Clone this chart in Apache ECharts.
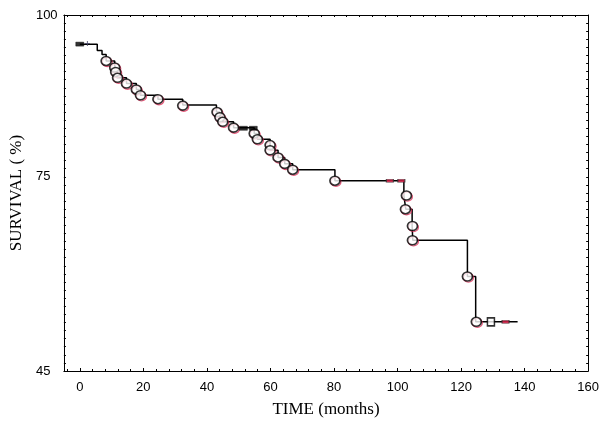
<!DOCTYPE html>
<html>
<head>
<meta charset="utf-8">
<script src="https://cdn.jsdelivr.net/npm/echarts@6/dist/echarts.min.js"></script>
<style>html,body{margin:0;padding:0;background:#fff}#c{width:602px;height:423px}</style>
</head>
<body>
<div id="c"></div>
<script>
// ---- data ----
const stepTimes = [0, 5.5, 7.0, 8.3, 11.0, 11.0, 11.7, 14.7, 17.8, 19.1, 24.6, 32.4, 43.0, 44.1, 45.0, 48.4, 54.9, 55.9, 59.9, 59.9, 62.4, 64.5, 67.0, 80.3, 102.0, 102.6, 104.6, 104.8, 122.0, 124.6, 137.8];
const stepSurv  = [95.5, 94.5, 93.9, 92.9, 92.0, 91.2, 90.3, 89.4, 88.5, 87.6, 87.0, 86.1, 85.0, 84.2, 83.5, 82.6, 81.7, 80.8, 79.9, 79.1, 78.0, 77.0, 76.1, 74.4, 72.1, 70.0, 67.4, 65.2, 59.6, 52.6, 52.6];
const circleTimes = [8.3, 11.0, 11.3, 11.9, 14.7, 17.8, 19.1, 24.6, 32.4, 43.2, 44.1, 45.0, 48.4, 54.9, 55.9, 59.9, 59.9, 62.4, 64.5, 67.0, 80.3, 102.8, 102.5, 104.7, 104.7, 122.0, 124.8];
const circleSurv  = [92.9, 91.9, 91.2, 90.3, 89.4, 88.5, 87.6, 87.0, 86.0, 85.0, 84.2, 83.5, 82.6, 81.7, 80.8, 79.9, 79.1, 78.0, 77.0, 76.1, 74.4, 72.1, 70.0, 67.4, 65.2, 59.6, 52.6];
const squareTimes = [129.4];
const squareSurv  = [52.6];
const blackBarTimes = [0, 51.5, 54.6];
const blackBarSurv  = [95.5, 82.5, 82.5];
const redBarTimes = [97.6, 101.2, 134.0];
const redBarSurv  = [74.4, 74.4, 52.6];
const plusTimes = [2.4];
const plusSurv  = [95.6];
const xTickLabels = [0, 20, 40, 60, 80, 100, 120, 140, 160];
const yTickLabels = [45, 75, 100];
const xTitle = 'TIME (months)';
const yTitle = 'SURVIVAL ( %)';

const zip = (a, b) => a.map((v, i) => [v, b[i]]);
const range = (s, e, st) => { const r = []; for (let v = s; v <= e + 1e-9; v += st) r.push(+v.toFixed(4)); return r; };
const xMinor = range(-4, 160, 4);
const yMinor = range(45, 100, 1.25);

const chart = echarts.init(document.getElementById('c'), null, {renderer: 'canvas'});
const labelFont = {color: '#000', fontFamily: 'Liberation Sans, Arial, sans-serif', fontSize: 13};
const titleFont = {color: '#000', fontFamily: 'Liberation Serif, Times New Roman, serif', fontSize: 17};

chart.setOption({
  animation: false,
  backgroundColor: '#fff',
  grid: {left: 57, right: 11, top: 15, bottom: 45},
  xAxis: [
    {type: 'value', position: 'bottom', min: -5, max: 160,
     name: xTitle, nameLocation: 'middle', nameGap: 30, nameTextStyle: titleFont,
     axisLine: {show: true, onZero: false, lineStyle: {color: '#000', width: 1}},
     axisTick: {show: true, inside: true, length: 3, customValues: xTickLabels, lineStyle: {color: '#000'}},
     axisLabel: {show: true, margin: 10, customValues: xTickLabels, ...labelFont},
     splitLine: {show: false}},
    {type: 'value', position: 'bottom', min: -5, max: 160,
     axisLine: {show: false, onZero: false},
     axisTick: {show: true, inside: true, length: 2, customValues: xMinor, lineStyle: {color: '#000'}},
     axisLabel: {show: false}, splitLine: {show: false}},
    {type: 'value', position: 'top', min: -5, max: 160,
     axisLine: {show: true, onZero: false, lineStyle: {color: '#000', width: 1}},
     axisTick: {show: true, inside: true, length: 2, customValues: xMinor, lineStyle: {color: '#000'}},
     axisLabel: {show: false}, splitLine: {show: false}}
  ],
  yAxis: [
    {type: 'value', position: 'left', min: 45, max: 100,
     name: yTitle, nameLocation: 'middle', nameGap: 36, nameRotate: 90, nameTextStyle: titleFont,
     axisLine: {show: true, onZero: false, lineStyle: {color: '#000', width: 1}},
     axisTick: {show: true, inside: true, length: 2, customValues: yMinor, lineStyle: {color: '#000'}},
     axisLabel: {show: true, customValues: yTickLabels, align: 'left', margin: 28, ...labelFont},
     splitLine: {show: false}},
    {type: 'value', position: 'right', min: 45, max: 100,
     axisLine: {show: true, onZero: false, lineStyle: {color: '#000', width: 1}},
     axisTick: {show: true, inside: true, length: 2, customValues: yMinor, lineStyle: {color: '#000'}},
     axisLabel: {show: false}, splitLine: {show: false}}
  ],
  series: [
    {type: 'line', step: 'end', data: zip(stepTimes, stepSurv), showSymbol: false, symbol: 'none',
     lineStyle: {color: '#000', width: 1.5}, z: 2, silent: true},
    {type: 'scatter', data: zip(circleTimes, circleSurv), symbol: 'circle', symbolSize: [10, 9],
     symbolOffset: [1, 1.2],
     itemStyle: {color: 'rgba(0,0,0,0)', borderColor: '#e0305a', borderWidth: 1.2}, z: 3},
    {type: 'scatter', data: zip(circleTimes, circleSurv), symbol: 'circle', symbolSize: [10, 9],
     itemStyle: {color: '#fff', borderColor: '#000', borderWidth: 1.6}, z: 4},
    {type: 'scatter', data: zip(squareTimes, squareSurv), symbol: 'rect', symbolSize: [7, 8],
     itemStyle: {color: '#fff', borderColor: '#000', borderWidth: 1.6}, z: 4},
    {type: 'scatter', data: zip(blackBarTimes, blackBarSurv), symbol: 'rect', symbolSize: [8, 4],
     itemStyle: {color: '#000', borderColor: '#000', borderWidth: 0.5}, z: 4},
    {type: 'scatter', data: zip(redBarTimes, redBarSurv), symbol: 'rect', symbolSize: [7, 3],
     itemStyle: {color: '#e0204a', borderColor: '#333', borderWidth: 0.8}, z: 4},
    {type: 'scatter', data: zip(plusTimes, plusSurv), symbol: 'path://M2,0 L3,0 L3,2 L5,2 L5,3 L3,3 L3,5 L2,5 L2,3 L0,3 L0,2 L2,2 Z',
     symbolSize: 5, itemStyle: {color: '#446'}, z: 4}
  ]
});
</script>
</body>
</html>
